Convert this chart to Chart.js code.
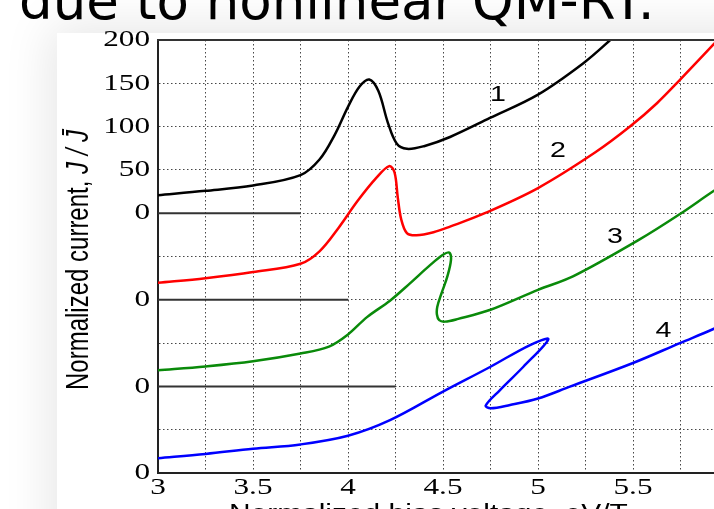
<!DOCTYPE html>
<html><head><meta charset="utf-8">
<script src="https://cdn.jsdelivr.net/npm/chart.js@4.4.1/dist/chart.umd.min.js"></script>
<style>
html,body{margin:0;padding:0;width:714px;height:509px;overflow:hidden;background:#fff;}
#card{position:absolute;left:57px;top:33px;width:720px;height:520px;background:#fff;box-shadow:0 0 45px 6px rgba(0,0,0,0.10);}
#title{position:absolute;left:19px;top:-26px;font-family:'DejaVu Sans';font-size:53px;line-height:1;white-space:nowrap;color:#000;}
#wrap{position:absolute;left:0;top:0;width:740px;height:509px;}
</style></head><body>
<div id="card"></div>
<div id="title">due to nonlinear QM-RT.</div>
<div id="wrap"><canvas id="c" width="740" height="509"></canvas></div>
<script>
// ---- data ----
const curveNames = ['1','2','3','4'];
const curveColors = ['#000000','#ff0000','#0a8a0a','#0000ff'];
const curveOffsets = [300,200,100,0];

const c1X = [3.0,3.25,3.5,3.75,3.85,3.93,4.0,4.06,4.112,4.16,4.21,4.256,4.31,4.4,4.537,4.747,5.0,5.237,5.38,5.5];
const c1J = [20.8,25.8,32,44,62,90.5,122.8,146,154.4,141,104.4,80.5,74.3,77.4,88,110,137,173,200,225];

const c2X = [3.0,3.25,3.5,3.75,3.85,3.95,4.05,4.15,4.217,4.245,4.262,4.28,4.31,4.36,4.45,4.537,4.72,5.0,5.3,5.484,5.626,5.747,5.92,6.0];
const c2J = [19.6,25,32,41.6,56,83,114,141,154.4,147,118,93,77,74.5,78,84.5,100,129,170,200,227,254,294,313];

const c3X = [3.0,3.25,3.5,3.75,3.9,4.0,4.1,4.221,4.326,4.432,4.5,4.533,4.542,4.523,4.493,4.47,4.468,4.48,4.51,4.58,4.75,5.0,5.184,5.537,5.747,5.92,6.0];
const c3J = [18.5,23,29,38,46,60,80,99,119,140,152,154.5,146,127,108,92,83,76.5,74.8,78,88.5,111.5,127,170,199,225,236];

const c4X = [3.0,3.25,3.5,3.75,4.0,4.221,4.5,4.75,4.958,5.054,4.923,4.8,4.725,4.75,4.853,5.0,5.168,5.5,5.747,5.92,6.0];
const c4J = [17,22,28,33,43,61,94,122.7,147.8,154.4,122.7,95.8,78,74.7,78.5,86,99.7,127,150,166,174];

const baseEnds = [3.75,4.0,4.25];

const yTickValues = [0,100,200,300,350,400,450,500];
const yTickLabels = ['0','0','0','0','50','100','150','200'];
const xTickValues = [3,3.5,4,4.5,5,5.5,6];
const xTickLabels = ['3','3.5','4','4.5','5','5.5','6'];

const labelX = [4.789,5.105,5.405,5.66];
const labelJ = [137,171.8,173,164.5];

const xTitle = 'Normalized bias voltage, eV/T';
const yTitleMain = 'Normalized current, ';
const yTitleSym = 'J / J\u0304';

// ---- build ----
const curves = [[c1X,c1J],[c2X,c2J],[c3X,c3J],[c4X,c4J]];
const datasets = [];
baseEnds.forEach((xe,i)=>datasets.push({
  data:[{x:3,y:curveOffsets[i]},{x:xe,y:curveOffsets[i]}],
  borderColor:'#333',borderWidth:2,pointRadius:0,tension:0
}));
curves.forEach(([xs,js],i)=>datasets.push({
  data:xs.map((x,k)=>({x:x,y:js[k]+curveOffsets[i]})),
  borderColor:curveColors[i],borderWidth:2.5,pointRadius:0,tension:0.35,
  borderJoinStyle:'round',borderCapStyle:'round'
}));

const SX = 1.3;
function sText(ctx,t,x,y,align,base,font){
  ctx.save();ctx.font=font;ctx.textAlign=align;ctx.textBaseline=base;ctx.fillStyle='#000';
  ctx.translate(x,y);ctx.scale(SX,1);ctx.fillText(t,0,0);ctx.restore();
}
function idx(arr,v){return arr.findIndex(a=>Math.abs(a-v)<1e-6);}

const textPlugin = {
  id:'txt',
  afterDraw(chart){
    const {ctx,chartArea:a,scales:{x,y}} = chart;
    ctx.save();ctx.strokeStyle='#333';ctx.lineWidth=2;ctx.beginPath();
    ctx.moveTo(a.left-1,a.top);ctx.lineTo(a.right,a.top);ctx.stroke();ctx.restore();
    y.ticks.forEach(t=>{const i=idx(yTickValues,t.value); if(i<0)return;
      sText(ctx,yTickLabels[i],a.left-8,y.getPixelForValue(t.value),'right','middle',"24px 'Liberation Serif'");});
    x.ticks.forEach(t=>{const i=idx(xTickValues,t.value); if(i<0)return;
      sText(ctx,xTickLabels[i],x.getPixelForValue(t.value),a.bottom+3,'center','top',"24px 'Liberation Serif'");});
    curveNames.forEach((n,i)=>sText(ctx,n,x.getPixelForValue(labelX[i]),y.getPixelForValue(labelJ[i]+curveOffsets[i]),'center','middle',"22px 'Liberation Sans'"));
    sText(ctx,xTitle,229,521,'left','alphabetic',"23px 'Liberation Sans'");
    ctx.save();ctx.translate(88,390);ctx.rotate(-Math.PI/2);ctx.scale(1,SX);
    ctx.textBaseline='alphabetic';ctx.textAlign='left';ctx.fillStyle='#000';
    ctx.font="24px 'Liberation Sans'";ctx.fillText(yTitleMain,0,0);
    const w=ctx.measureText(yTitleMain).width;
    ctx.font="italic 24px 'Liberation Sans'";ctx.fillText(yTitleSym,w,0);
    ctx.restore();
  }
};

const gridOpts = {color:'rgba(0,0,0,0.72)',lineWidth:1,drawTicks:false};
new Chart(document.getElementById('c'),{
  type:'line',
  data:{datasets:datasets},
  options:{
    responsive:false,animation:false,devicePixelRatio:1,
    layout:{padding:{left:0,right:12,top:40,bottom:0}},
    plugins:{legend:{display:false},tooltip:{enabled:false}},
    scales:{
      x:{type:'linear',min:3,max:6,afterFit(s){s.height=36;},
         ticks:{display:false,stepSize:0.25},grid:gridOpts,
         border:{display:true,color:'#222',width:2,dash:[1.5,2.5]}},
      y:{type:'linear',min:0,max:500,afterFit(s){s.width=158;},
         ticks:{display:false,stepSize:50},grid:gridOpts,
         border:{display:true,color:'#222',width:2,dash:[1.5,2.5]}}
    }
  },
  plugins:[textPlugin]
});
</script></body></html>
